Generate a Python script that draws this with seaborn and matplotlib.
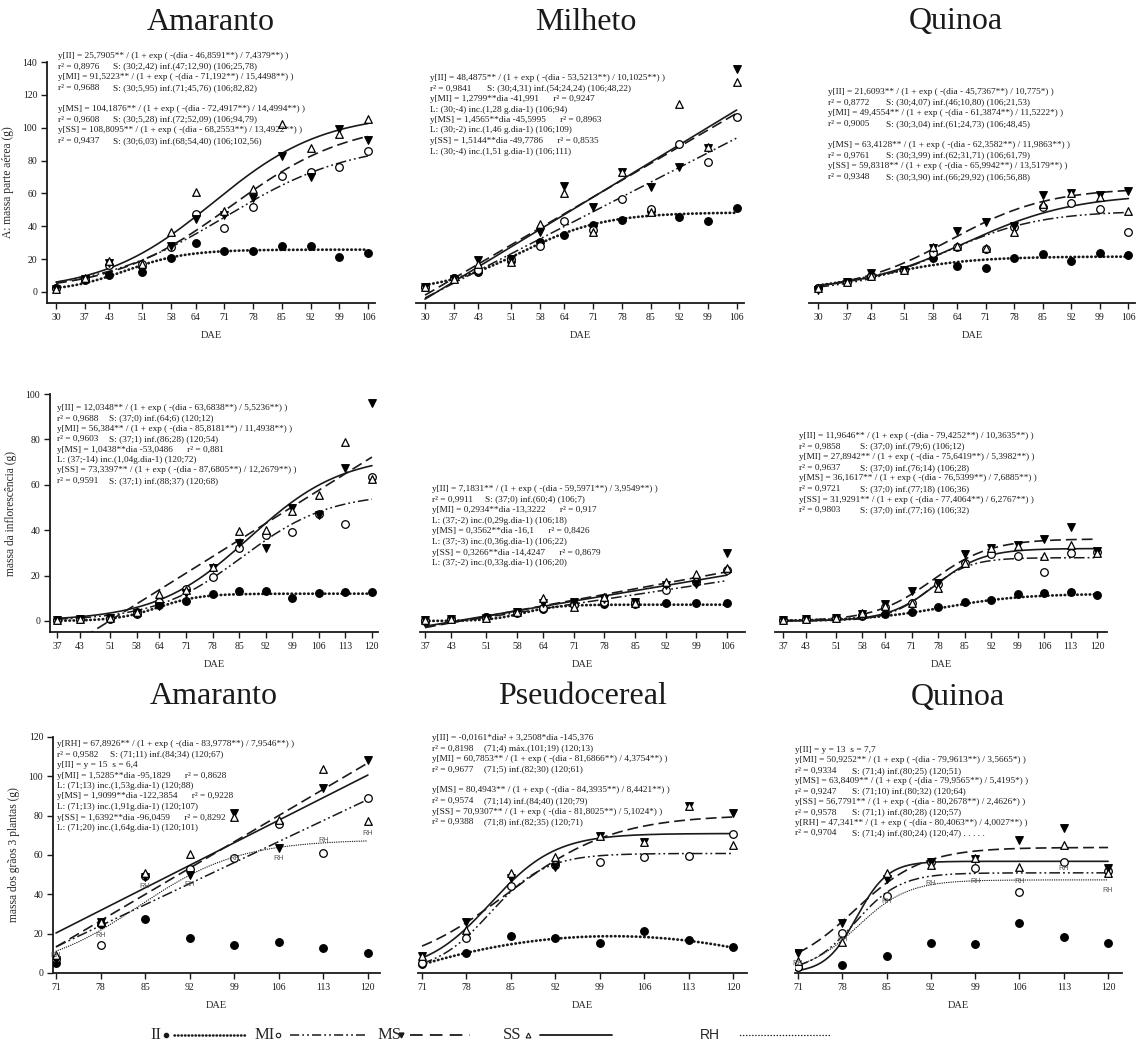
import numpy as np
import matplotlib
matplotlib.use("Agg")
import matplotlib.pyplot as plt
from matplotlib.lines import Line2D
import seaborn as sns

sns.set_theme(style="ticks")
plt.rcParams['font.family'] = ['Liberation Serif', 'DejaVu Serif']

# ---------------- DATA ----------------
days1 = [30, 37, 43, 51, 58, 64, 71, 78, 85, 92, 99, 106]
days2a = [37, 43, 51, 58, 64, 71, 78, 85, 92, 99, 106, 113, 120]
days2b = [37, 43, 51, 58, 64, 71, 78, 85, 92, 99, 106]
days3 = [71, 78, 85, 92, 99, 106, 113, 120]

# Row 1 - massa parte aerea
a1_II = [2.2, 7.0, 10.3, 12.0, 20.5, 29.6, 25.2, 25.2, 28.2, 28.2, 21.5, 23.5]
a1_MI = [2.2, 7.7, 16.4, 16.8, 27.2, 47.5, 38.7, 51.9, 70.6, 73.2, 75.9, 85.8]
a1_MS = [2.0, 7.7, 17.4, 13.4, 28.2, 44.4, 46.9, 57.0, 82.8, 70.2, 99.0, 92.5]
a1_SS = [2.0, 8.3, 19.0, 16.8, 36.3, 60.6, 49.5, 62.7, 102.0, 87.4, 96.0, 105.0]

m1_II = [2.8, 8.3, 12.4, 19.0, 30.6, 34.7, 40.6, 43.8, 49.0, 45.8, 43.2, 50.9]
m1_MI = [2.8, 8.3, 13.4, 20.0, 28.2, 43.2, 37.5, 56.4, 50.3, 89.9, 78.9, 106.7]
m1_MS = [3.0, 8.0, 19.5, 19.9, 36.7, 64.5, 51.9, 73.2, 64.1, 76.3, 87.4, 135.5]
m1_SS = [3.0, 8.0, 17.0, 18.0, 41.4, 60.4, 36.7, 73.2, 48.9, 114.4, 88.4, 128.0]

q1_II = [2.2, 6.3, 9.7, 13.4, 20.5, 15.8, 14.4, 20.5, 23.1, 19.1, 23.5, 22.5]
q1_MI = [2.2, 6.3, 9.7, 13.4, 23.5, 27.6, 26.0, 39.8, 51.5, 54.0, 50.5, 36.3]
q1_MS = [1.2, 6.3, 11.4, 13.4, 26.6, 37.3, 42.4, 40.0, 59.0, 60.0, 59.0, 61.7]
q1_SS = [2.2, 6.3, 9.7, 13.4, 27.6, 28.2, 26.6, 36.7, 53.5, 60.4, 57.6, 49.5]

# Row 2 - massa da inflorescencia
a2_II = [0.4, 0.7, 1.0, 3.0, 7.0, 9.0, 11.7, 13.4, 13.4, 10.3, 12.5, 12.6, 12.6]
a2_MI = [0.4, 0.7, 1.2, 3.8, 8.2, 14.0, 19.2, 32.0, 37.9, 39.4, 47.0, 42.7, 63.3]
a2_MS = [0.4, 0.7, 1.2, 3.4, 6.8, 12.2, 23.2, 34.5, 32.3, 49.6, 46.5, 67.5, 95.9]
a2_SS = [0.4, 0.7, 1.2, 3.8, 11.7, 13.7, 23.6, 39.8, 40.0, 48.5, 55.5, 79.0, 62.4]

m2_II = [0.0, 0.7, 1.9, 4.1, 5.1, 7.3, 7.3, 7.5, 7.8, 7.8, 8.1]
m2_MI = [0.4, 0.7, 1.9, 3.4, 5.6, 7.0, 8.2, 8.2, 13.7, 17.3, 22.5]
m2_MS = [0.3, 0.7, 1.5, 4.1, 7.8, 8.2, 9.5, 8.5, 15.9, 16.3, 29.8]
m2_SS = [0.3, 0.7, 1.5, 4.1, 10.0, 6.3, 10.7, 7.8, 17.3, 20.7, 23.2]

q2_II = [0.4, 0.7, 1.5, 2.2, 2.9, 3.8, 6.3, 8.5, 9.3, 11.7, 12.2, 12.6, 11.5]
q2_MI = [0.4, 0.7, 1.5, 2.8, 6.3, 7.8, 16.3, 25.7, 29.5, 28.8, 21.7, 30.1, 30.5]
q2_MS = [0.4, 0.7, 1.5, 3.0, 7.5, 13.4, 16.9, 29.5, 32.0, 33.5, 36.0, 41.6, 31.0]
q2_SS = [0.4, 0.7, 1.5, 3.7, 6.8, 8.0, 14.7, 25.7, 32.0, 33.0, 28.8, 33.5, 30.0]

# Row 3 - massa dos graos
a3_II = [5.3, 25.0, 27.5, 18.0, 14.2, 15.9, 12.9, 10.0]
a3_MI = [7.0, 14.2, 49.5, 52.9, 58.6, 75.8, 61.2, 88.8]
a3_MS = [6.6, 26.1, 49.0, 49.8, 81.2, 63.4, 93.9, 108.3]
a3_SS = [9.2, 26.1, 50.7, 60.5, 79.5, 78.0, 103.6, 77.3]
a3_RH = [9.0, 19.3, 44.2, 45.0, 58.3, 58.3, 67.3, 70.7]

p3_II = [4.6, 10.0, 18.8, 17.6, 15.4, 21.5, 16.8, 13.4]
p3_MI = [4.9, 18.0, 44.4, 55.0, 56.6, 59.2, 59.7, 70.7]
p3_MS = [8.6, 25.8, 48.1, 54.0, 69.8, 66.8, 84.9, 81.5]
p3_SS = [8.6, 21.9, 51.0, 59.2, 69.8, 66.8, 84.9, 65.1]

q3_II = [3.0, 4.1, 8.8, 15.4, 14.7, 25.3, 18.5, 15.4]
q3_MI = [3.2, 20.2, 39.2, 56.6, 53.2, 41.0, 56.6, 52.0]
q3_MS = [10.3, 25.6, 47.6, 56.6, 58.0, 67.6, 73.6, 53.2]
q3_SS = [6.1, 15.9, 51.0, 54.9, 58.3, 53.7, 65.1, 51.0]
q3_RH = [5.0, 17.0, 36.3, 45.6, 46.4, 46.4, 53.2, 42.2]

# fitted model coefficients printed on the chart
a1_fit_II = [25.7905, 46.8591, 7.4379]
a1_fit_MI = [91.5223, 71.192, 15.4498]
a1_fit_MS = [104.1876, 72.4917, 14.4994]
a1_fit_SS = [108.8095, 68.2553, 13.4922]
m1_fit_II = [48.4875, 53.5213, 10.1025]
m1_fit_MI = [1.2799, -41.991]
m1_fit_MS = [1.4565, -45.5995]
m1_fit_SS = [1.5144, -49.7786]
q1_fit_II = [21.6093, 45.7367, 10.775]
q1_fit_MI = [49.4554, 61.3874, 11.5222]
q1_fit_MS = [63.4128, 62.3582, 11.9863]
q1_fit_SS = [59.8318, 65.9942, 13.5179]
a2_fit_II = [12.0348, 63.6838, 5.5236]
a2_fit_MI = [56.384, 85.8181, 11.4938]
a2_fit_MS = [1.0438, -53.0486]
a2_fit_SS = [73.3397, 87.6805, 12.2679]
m2_fit_II = [7.1831, 59.5971, 3.9549]
m2_fit_MI = [0.2934, -13.3222]
m2_fit_MS = [0.3562, -16.1]
m2_fit_SS = [0.3266, -14.4247]
q2_fit_II = [11.9646, 79.4252, 10.3635]
q2_fit_MI = [27.8942, 75.6419, 5.3982]
q2_fit_MS = [36.1617, 76.5399, 7.6885]
q2_fit_SS = [31.9291, 77.4064, 6.2767]
a3_fit_RH = [67.8926, 83.9778, 7.9546]
a3_fit_MI = [1.5285, -95.1829]
a3_fit_MS = [1.9099, -122.3854]
a3_fit_SS = [1.6392, -96.0459]
p3_fit_II = [-0.0161, 3.2508, -145.376]
p3_fit_MI = [60.7853, 81.6866, 4.3754]
p3_fit_MS = [80.4943, 84.3935, 8.4421]
p3_fit_SS = [70.9307, 81.8025, 5.1024]
q3_fit_MI = [50.9252, 79.9613, 3.5665]
q3_fit_MS = [63.8409, 79.9565, 5.4195]
q3_fit_SS = [56.7791, 80.2678, 2.4626]
q3_fit_RH = [47.341, 80.4063, 4.0027]

titles_row1 = ["Amaranto", "Milheto", "Quinoa"]
titles_row3 = ["Amaranto", "Pseudocereal", "Quinoa"]
ylabels = ["A: massa parte aérea (g)", "massa da inflorescência (g)",
           "massa dos grãos 3 plantas (g)"]

txt_a1 = ["y[II] = 25,7905** / (1 + exp ( -(dia - 46,8591**) / 7,4379**) )",
          "r² = 0,8976\tS: (30;2,42) inf.(47;12,90) (106;25,78)",
          "y[MI] = 91,5223** / (1 + exp ( -(dia - 71,192**) / 15,4498**) )",
          "r² = 0,9688\tS: (30;5,95) inf.(71;45,76) (106;82,82)",
          "",
          "y[MS] = 104,1876** / (1 + exp ( -(dia - 72,4917**) / 14,4994**) )",
          "r² = 0,9608\tS: (30;5,28) inf.(72;52,09) (106;94,79)",
          "y[SS] = 108,8095** / (1 + exp ( -(dia - 68,2553**) / 13,4922**) )",
          "r² = 0,9437\tS: (30;6,03) inf.(68;54,40) (106;102,56)"]
txt_m1 = ["y[II] = 48,4875** / (1 + exp ( -(dia - 53,5213**) / 10,1025**) )",
          "r² = 0,9841\tS: (30;4,31) inf.(54;24,24) (106;48,22)",
          "y[MI] = 1,2799**dia -41,991      r² = 0,9247",
          "L: (30;-4) inc.(1,28 g.dia-1) (106;94)",
          "y[MS] = 1,4565**dia -45,5995      r² = 0,8963",
          "L: (30;-2) inc.(1,46 g.dia-1) (106;109)",
          "y[SS] = 1,5144**dia -49,7786      r² = 0,8535",
          "L: (30;-4) inc.(1,51 g.dia-1) (106;111)"]
txt_q1 = ["y[II] = 21,6093** / (1 + exp ( -(dia - 45,7367**) / 10,775*) )",
          "r² = 0,8772\tS: (30;4,07) inf.(46;10,80) (106;21,53)",
          "y[MI] = 49,4554** / (1 + exp ( -(dia - 61,3874**) / 11,5222*) )",
          "r² = 0,9005\tS: (30;3,04) inf.(61;24,73) (106;48,45)",
          "",
          "y[MS] = 63,4128** / (1 + exp ( -(dia - 62,3582**) / 11,9863**) )",
          "r² = 0,9761\tS: (30;3,99) inf.(62;31,71) (106;61,79)",
          "y[SS] = 59,8318** / (1 + exp ( -(dia - 65,9942**) / 13,5179**) )",
          "r² = 0,9348\tS: (30;3,90) inf.(66;29,92) (106;56,88)"]
txt_a2 = ["y[II] = 12,0348** / (1 + exp ( -(dia - 63,6838**) / 5,5236**) )",
          "r² = 0,9688\tS: (37;0) inf.(64;6) (120;12)",
          "y[MI] = 56,384** / (1 + exp ( -(dia - 85,8181**) / 11,4938**) )",
          "r² = 0,9603\tS: (37;1) inf.(86;28) (120;54)",
          "y[MS] = 1,0438**dia -53,0486      r² = 0,881",
          "L: (37;-14) inc.(1,04g.dia-1) (120;72)",
          "y[SS] = 73,3397** / (1 + exp ( -(dia - 87,6805**) / 12,2679**) )",
          "r² = 0,9591\tS: (37;1) inf.(88;37) (120;68)"]
txt_m2 = ["y[II] = 7,1831** / (1 + exp ( -(dia - 59,5971**) / 3,9549**) )",
          "r² = 0,9911\tS: (37;0) inf.(60;4) (106;7)",
          "y[MI] = 0,2934**dia -13,3222      r² = 0,917",
          "L: (37;-2) inc.(0,29g.dia-1) (106;18)",
          "y[MS] = 0,3562**dia -16,1      r² = 0,8426",
          "L: (37;-3) inc.(0,36g.dia-1) (106;22)",
          "y[SS] = 0,3266**dia -14,4247      r² = 0,8679",
          "L: (37;-2) inc.(0,33g.dia-1) (106;20)"]
txt_q2 = ["y[II] = 11,9646** / (1 + exp ( -(dia - 79,4252**) / 10,3635**) )",
          "r² = 0,9858\tS: (37;0) inf.(79;6) (106;12)",
          "y[MI] = 27,8942** / (1 + exp ( -(dia - 75,6419**) / 5,3982**) )",
          "r² = 0,9637\tS: (37;0) inf.(76;14) (106;28)",
          "y[MS] = 36,1617** / (1 + exp ( -(dia - 76,5399**) / 7,6885**) )",
          "r² = 0,9721\tS: (37;0) inf.(77;18) (106;36)",
          "y[SS] = 31,9291** / (1 + exp ( -(dia - 77,4064**) / 6,2767**) )",
          "r² = 0,9803\tS: (37;0) inf.(77;16) (106;32)"]
txt_a3 = ["y[RH] = 67,8926** / (1 + exp ( -(dia - 83,9778**) / 7,9546**) )",
          "r² = 0,9582\tS: (71;11) inf.(84;34) (120;67)",
          "y[II] = y = 15  s = 6,4",
          "y[MI] = 1,5285**dia -95,1829      r² = 0,8628",
          "L: (71;13) inc.(1,53g.dia-1) (120;88)",
          "y[MS] = 1,9099**dia -122,3854      r² = 0,9228",
          "L: (71;13) inc.(1,91g.dia-1) (120;107)",
          "y[SS] = 1,6392**dia -96,0459      r² = 0,8292",
          "L: (71;20) inc.(1,64g.dia-1) (120;101)"]
txt_p3 = ["y[II] = -0,0161*dia² + 3,2508*dia -145,376",
          "r² = 0,8198\t(71;4) máx.(101;19) (120;13)",
          "y[MI] = 60,7853** / (1 + exp ( -(dia - 81,6866**) / 4,3754**) )",
          "r² = 0,9677\t(71;5) inf.(82;30) (120;61)",
          "",
          "y[MS] = 80,4943** / (1 + exp ( -(dia - 84,3935**) / 8,4421**) )",
          "r² = 0,9574\t(71;14) inf.(84;40) (120;79)",
          "y[SS] = 70,9307** / (1 + exp ( -(dia - 81,8025**) / 5,1024*) )",
          "r² = 0,9388\t(71;8) inf.(82;35) (120;71)"]
txt_q3 = ["y[II] = y = 13  s = 7,7",
          "y[MI] = 50,9252** / (1 + exp ( -(dia - 79,9613**) / 3,5665*) )",
          "r² = 0,9334\tS: (71;4) inf.(80;25) (120;51)",
          "y[MS] = 63,8409** / (1 + exp ( -(dia - 79,9565**) / 5,4195*) )",
          "r² = 0,9247\tS: (71;10) inf.(80;32) (120;64)",
          "y[SS] = 56,7791** / (1 + exp ( -(dia - 80,2678**) / 2,4626*) )",
          "r² = 0,9578\tS: (71;1) inf.(80;28) (120;57)",
          "y[RH] = 47,341** / (1 + exp ( -(dia - 80,4063**) / 4,0027**) )",
          "r² = 0,9704\tS: (71;4) inf.(80;24) (120;47) . . . . ."]

# ---------------- STYLE / LAYOUT ----------------
W, H = 1137, 1053
fig = plt.figure(figsize=(W / 100, H / 100), dpi=100)
TXT = '#1a1a1a'

LINE = {
    'II': dict(color='k', lw=2.0, linestyle=(0, (0.15, 1.35)), dash_capstyle='round'),
    'MI': dict(color='k', lw=1.1, linestyle=(0, (7, 2, 1.2, 2, 1.2, 2))),
    'MS': dict(color='k', lw=1.2, linestyle=(0, (6.5, 3))),
    'SS': dict(color='k', lw=1.2, linestyle='-'),
    'RH': dict(color='k', lw=0.9, linestyle=(0, (0.2, 1.6)), dash_capstyle='round'),
}
MARK = {
    'II': dict(marker='o', color='black', edgecolor='black'),
    'MI': dict(marker='o', color='white', edgecolor='black'),
    'MS': dict(marker='v', color='black', edgecolor='black'),
    'SS': dict(marker='^', color='white', edgecolor='black'),
}


def logistic(x, p):
    return p[0] / (1 + np.exp(-(x - p[1]) / p[2]))


def linear(x, p):
    return p[0] * x + p[1]


def quad(x, p):
    return p[0] * x ** 2 + p[1] * x + p[2]


def make_ax(l, r, t, b, xlim, ylim, xticks, yticks=None):
    ax = fig.add_axes([l / W, 1 - b / H, (r - l) / W, (b - t) / H])
    ax.set_facecolor('none')
    ax.set_xlim(*xlim)
    ax.set_ylim(*ylim)
    ax.set_xticks(xticks)
    sns.despine(ax=ax, top=True, right=True, left=(yticks is None))
    if yticks is None:
        ax.set_yticks([])
    else:
        ax.set_yticks(yticks)
    ax.tick_params(axis='both', direction='out', length=4, width=1.0,
                   labelsize=7, colors='k', pad=3)
    for s in ax.spines.values():
        s.set_linewidth(1.3)
        s.set_color('k')
    ax.set_xlabel('DAE', fontsize=7.5, labelpad=7)
    ax.grid(False)
    return ax


def draw_curve(ax, fn, p, x0, x1, key):
    xs = np.linspace(x0, x1, 300)
    sns.lineplot(x=xs, y=fn(xs, p), ax=ax, zorder=2, **LINE[key])


def draw_pts(ax, days, vals, key):
    sns.scatterplot(x=days, y=vals, ax=ax, s=30, linewidth=0.9, zorder=3,
                    legend=False, **MARK[key])


def draw_rh(ax, days, vals):
    for d, v in zip(days, vals):
        ax.text(d, v, 'RH', fontsize=5.2, family='Liberation Sans', color='#555555',
                ha='center', va='center', zorder=4)


def block(x0, y0, dy, lines, tab, fs=6.7):
    for i, ln in enumerate(lines):
        y = y0 + i * dy
        parts = ln.split('\t')
        fig.text(x0 / W, 1 - y / H, parts[0], fontsize=fs, va='center', ha='left', color=TXT)
        if len(parts) > 1:
            fig.text((x0 + tab) / W, 1 - y / H, parts[1], fontsize=fs, va='center',
                     ha='left', color=TXT)


# ---------------- ROW 1 ----------------
yt1 = list(range(0, 141, 20))
ax = make_ax(47, 375, 62, 303, (27.8, 107.7), (-6.7, 140), days1, yt1)
for key, p in [('II', a1_fit_II), ('MI', a1_fit_MI), ('MS', a1_fit_MS), ('SS', a1_fit_SS)]:
    draw_curve(ax, logistic, p, 30, 106, key)
for key, v in [('II', a1_II), ('MI', a1_MI), ('MS', a1_MS), ('SS', a1_SS)]:
    draw_pts(ax, days1, v, key)
ax.set_ylabel(ylabels[0], fontsize=8.3, labelpad=6)

ax = make_ax(416, 744, 62, 303, (27.8, 107.8), (-6.7, 140), days1)
draw_curve(ax, logistic, m1_fit_II, 30, 106, 'II')
draw_curve(ax, linear, m1_fit_MI, 30, 106, 'MI')
draw_curve(ax, linear, m1_fit_MS, 30, 106, 'MS')
draw_curve(ax, linear, m1_fit_SS, 30, 106, 'SS')
for key, v in [('II', m1_II), ('MI', m1_MI), ('MS', m1_MS), ('SS', m1_SS)]:
    draw_pts(ax, days1, v, key)

ax = make_ax(809, 1135, 62, 303, (27.7, 107.6), (-6.7, 140), days1)
for key, p in [('II', q1_fit_II), ('MI', q1_fit_MI), ('MS', q1_fit_MS), ('SS', q1_fit_SS)]:
    draw_curve(ax, logistic, p, 30, 106, key)
for key, v in [('II', q1_II), ('MI', q1_MI), ('MS', q1_MS), ('SS', q1_SS)]:
    draw_pts(ax, days1, v, key)

# ---------------- ROW 2 ----------------
yt2 = list(range(0, 101, 20))
ax = make_ax(50, 378, 394, 632, (35.16, 121.6), (-4.85, 100), days2a, yt2)
draw_curve(ax, logistic, a2_fit_II, 37, 120, 'II')
draw_curve(ax, logistic, a2_fit_MI, 37, 120, 'MI')
draw_curve(ax, linear, a2_fit_MS, 37, 120, 'MS')
draw_curve(ax, logistic, a2_fit_SS, 37, 120, 'SS')
for key, v in [('II', a2_II), ('MI', a2_MI), ('MS', a2_MS), ('SS', a2_SS)]:
    draw_pts(ax, days2a, v, key)
ax.set_ylabel(ylabels[1], fontsize=8.3, labelpad=6)

ax = make_ax(420, 745, 394, 632, (35.86, 110.1), (-4.85, 100), days2b)
draw_curve(ax, logistic, m2_fit_II, 37, 106, 'II')
draw_curve(ax, linear, m2_fit_MI, 37, 106, 'MI')
draw_curve(ax, linear, m2_fit_MS, 37, 106, 'MS')
draw_curve(ax, linear, m2_fit_SS, 37, 106, 'SS')
for key, v in [('II', m2_II), ('MI', m2_MI), ('MS', m2_MS), ('SS', m2_SS)]:
    draw_pts(ax, days2b, v, key)

ax = make_ax(775, 1107, 394, 632, (34.9, 122.6), (-4.85, 100), days2a)
for key, p in [('II', q2_fit_II), ('MI', q2_fit_MI), ('MS', q2_fit_MS), ('SS', q2_fit_SS)]:
    draw_curve(ax, logistic, p, 37, 120, key)
for key, v in [('II', q2_II), ('MI', q2_MI), ('MS', q2_MS), ('SS', q2_SS)]:
    draw_pts(ax, days2a, v, key)

# ---------------- ROW 3 ----------------
yt3 = list(range(0, 121, 20))
ax = make_ax(53, 380, 737, 973, (70.53, 121.9), (0, 120), days3, yt3)
draw_curve(ax, logistic, a3_fit_RH, 71, 120, 'RH')
draw_curve(ax, linear, a3_fit_MI, 71, 120, 'MI')
draw_curve(ax, linear, a3_fit_MS, 71, 120, 'MS')
draw_curve(ax, linear, a3_fit_SS, 71, 120, 'SS')
for key, v in [('II', a3_II), ('MI', a3_MI), ('MS', a3_MS), ('SS', a3_SS)]:
    draw_pts(ax, days3, v, key)
draw_rh(ax, days3, a3_RH)
ax.set_ylabel(ylabels[2], fontsize=8.3, labelpad=6)

ax = make_ax(418, 747, 737, 973, (70.37, 122.2), (0, 120), days3)
draw_curve(ax, quad, p3_fit_II, 71, 120, 'II')
draw_curve(ax, logistic, p3_fit_MI, 71, 120, 'MI')
draw_curve(ax, logistic, p3_fit_MS, 71, 120, 'MS')
draw_curve(ax, logistic, p3_fit_SS, 71, 120, 'SS')
for key, v in [('II', p3_II), ('MI', p3_MI), ('MS', p3_MS), ('SS', p3_SS)]:
    draw_pts(ax, days3, v, key)

ax = make_ax(795, 1122, 737, 973, (70.53, 122.2), (0, 120), days3)
draw_curve(ax, logistic, q3_fit_RH, 71, 120, 'RH')
draw_curve(ax, logistic, q3_fit_MI, 71, 120, 'MI')
draw_curve(ax, logistic, q3_fit_MS, 71, 120, 'MS')
draw_curve(ax, logistic, q3_fit_SS, 71, 120, 'SS')
for key, v in [('II', q3_II), ('MI', q3_MI), ('MS', q3_MS), ('SS', q3_SS)]:
    draw_pts(ax, days3, v, key)
draw_rh(ax, days3, q3_RH)

# ---------------- TEXT ----------------
for t, x in zip(titles_row1, [211, 586, 956]):
    fig.text(x / W, 1 - 22 / H, t, fontsize=23, ha='center', va='center', color='k')
for t, x in zip(titles_row3, [214, 583, 958]):
    fig.text(x / W, 1 - 697 / H, t, fontsize=23, ha='center', va='center', color='k')

block(58, 56, 10.6, txt_a1, 55)
block(430, 78, 10.5, txt_m1, 57)
block(828, 92, 10.6, txt_q1, 58)
block(57, 408, 10.4, txt_a2, 52)
block(432, 489, 10.6, txt_m2, 53)
block(799, 436, 10.6, txt_q2, 61)
block(57, 744, 10.5, txt_a3, 53)
block(432, 738, 10.5, txt_p3, 52)
block(795, 750, 10.4, txt_q3, 57)

# ---------------- LEGEND ----------------
ly = 1 - 1035 / H


def fx(px):
    return px / W


fig.text(fx(150), ly, 'II', fontsize=12, va='center', ha='left')
fig.add_artist(Line2D([fx(166)], [ly], marker='o', ms=3, color='k', mfc='k', lw=0,
                      transform=fig.transFigure))
fig.add_artist(Line2D([fx(174), fx(245)], [ly, ly], color='k', lw=1.8,
                      linestyle=(0, (0.2, 1.2)), dash_capstyle='round',
                      transform=fig.transFigure))
fig.text(fx(255), ly, 'MI', fontsize=12, va='center', ha='left')
fig.add_artist(Line2D([fx(278)], [ly], marker='o', ms=3.2, color='k', mfc='white',
                      mew=0.8, lw=0, transform=fig.transFigure))
fig.add_artist(Line2D([fx(290), fx(365)], [ly, ly], color='k', lw=1.1,
                      linestyle=(0, (6, 2, 1.2, 2, 1.2, 2)), transform=fig.transFigure))
fig.text(fx(378), ly, 'MS', fontsize=12, va='center', ha='left')
fig.add_artist(Line2D([fx(401)], [ly], marker='v', ms=3.5, color='k', mfc='k', lw=0,
                      transform=fig.transFigure))
fig.add_artist(Line2D([fx(410), fx(470)], [ly, ly], color='k', lw=1.3,
                      linestyle=(0, (7, 4)), transform=fig.transFigure))
fig.text(fx(503), ly, 'SS', fontsize=12, va='center', ha='left')
fig.add_artist(Line2D([fx(528)], [ly], marker='^', ms=3.5, color='k', mfc='white',
                      mew=0.8, lw=0, transform=fig.transFigure))
fig.add_artist(Line2D([fx(540), fx(612)], [ly, ly], color='k', lw=1.3,
                      transform=fig.transFigure))
fig.text(fx(700), ly, 'RH', fontsize=10, va='center', ha='left', family='Liberation Sans')
fig.add_artist(Line2D([fx(740), fx(830)], [ly, ly], color='k', lw=1.0,
                      linestyle=(0, (0.2, 2.0)), dash_capstyle='round',
                      transform=fig.transFigure))

fig.savefig('out.png', dpi=100)
